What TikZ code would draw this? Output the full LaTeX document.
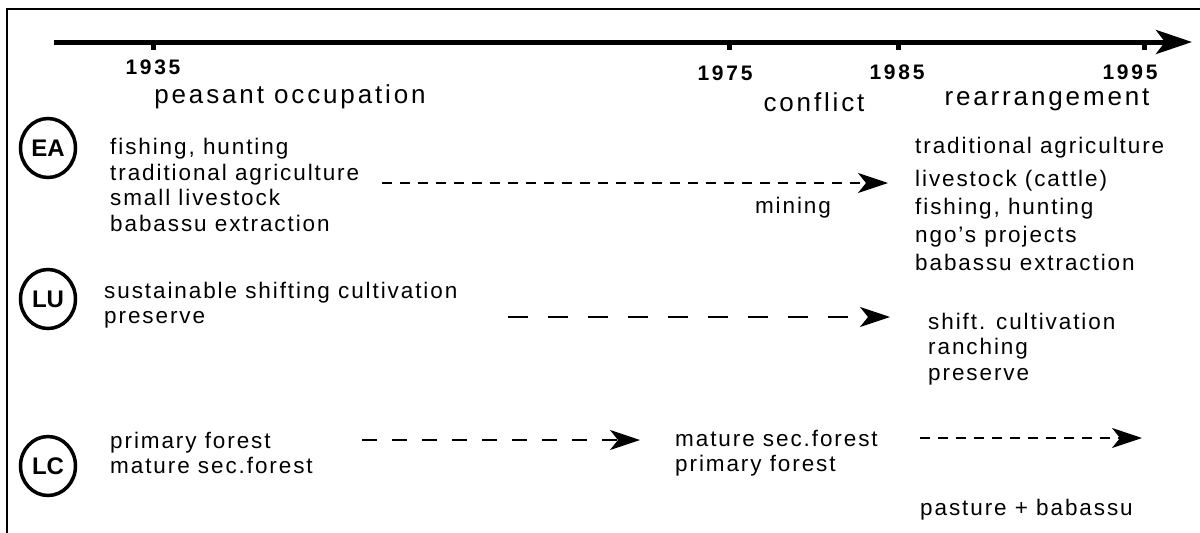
\documentclass[tikz,border=0pt]{standalone}
\usepackage{fontspec}
\setmainfont{Liberation Sans}
\newfontfamily\lsp[LetterSpace=8.5]{Liberation Sans}
\newfontfamily\tsp[LetterSpace=11]{Liberation Sans}
\newfontfamily\ysp[LetterSpace=13]{Liberation Sans}
\usetikzlibrary{arrows.meta,shapes.geometric}
\tikzset{
  listtxt/.style={anchor=west,align=left,inner sep=0pt,font=\lsp\fontsize{22.5}{25.5}\selectfont},
  titletxt/.style={inner sep=0pt,font=\tsp\fontsize{26}{30}\selectfont},
  yeartxt/.style={inner sep=0pt,font=\ysp\bfseries\fontsize{21}{24}\selectfont},
  tag/.style={ellipse,draw,line width=3.5pt,minimum width=55pt,minimum height=59pt,inner sep=0pt,font=\bfseries\fontsize{24}{26}\selectfont},
  tickmark/.style={line width=5pt},
  flowarrow/.style={line width=1.2pt,-{Stealth[length=30pt,width=20pt,inset=8pt]}},
}
\begin{document}
\begin{tikzpicture}[x=1pt,y=-1pt]
\useasboundingbox (0,0) rectangle (1200,533);
% frame
\draw[line width=2.5pt] (7,533) -- (7,9) -- (1200,9);
% timeline
\coordinate (tl0) at (54,42);
\coordinate (tl1) at (1192,42);
\draw[line width=5pt,-{Stealth[length=36pt,width=24pt,inset=9pt]}] (tl0) -- (tl1);
\foreach \x/\n in {153/a,729/b,898/c,1144/d}{
  \coordinate (t\n) at (\x,42);
  \draw[tickmark] (t\n) -- ++(0,8);
}
% years
\node[yeartxt] (y1935) at (153,67) {1935};
\node[yeartxt] (y1975) at (725,73) {1975};
\node[yeartxt] (y1985) at (897,72) {1985};
\node[yeartxt] (y1995) at (1130,72) {1995};
% periods
\node[titletxt] (p1) at (290,97) {peasant occupation};
\node[titletxt] (p2) at (814,102) {conflict};
\node[titletxt] (p3) at (1047,100) {rearrangement};
% tags
\node[tag] (EA) at (48,148) {EA};
\node[tag] (LU) at (48,299) {LU};
\node[tag] (LC) at (48,466) {LC};
% EA row
\node[listtxt] (eal) at (110,185) {fishing, hunting\\traditional agriculture\\small livestock\\babassu extraction};
\node[listtxt,font=\lsp\fontsize{22.5}{28}\selectfont] (ear) at (915,204) {traditional agriculture\\[5pt]livestock (cattle)\\fishing, hunting\\ngo’s projects\\babassu extraction};
\node[listtxt,anchor=center] (mining) at (793,208) {mining};
\coordinate (ea0) at (382,183);
\coordinate (ea1) at (888,183);
\draw[flowarrow,dash pattern=on 10pt off 8pt] (ea0) -- (ea1);
% LU row
\node[listtxt] (lul) at (104,305) {sustainable shifting cultivation\\preserve};
\node[listtxt] (lur) at (928,349) {shift. cultivation\\ranching\\preserve};
\coordinate (lu0) at (508,317);
\coordinate (lu1) at (890,317);
\draw[flowarrow,dash pattern=on 20pt off 20pt] (lu0) -- (lu1);
% LC row
\node[listtxt] (lcl) at (110,453) {primary forest\\mature sec.forest};
\node[listtxt] (lcm) at (675,453) {mature sec.forest\\primary forest};
\node[listtxt] (lcr) at (920,510) {pasture + babassu};
\coordinate (lc0) at (362,440);
\coordinate (lc1) at (640,440);
\draw[flowarrow,dash pattern=on 15pt off 15pt] (lc0) -- (lc1);
\coordinate (lc2) at (920,438);
\coordinate (lc3) at (1142,438);
\draw[flowarrow,dash pattern=on 10pt off 8pt] (lc2) -- (lc3);
\end{tikzpicture}
\end{document}
